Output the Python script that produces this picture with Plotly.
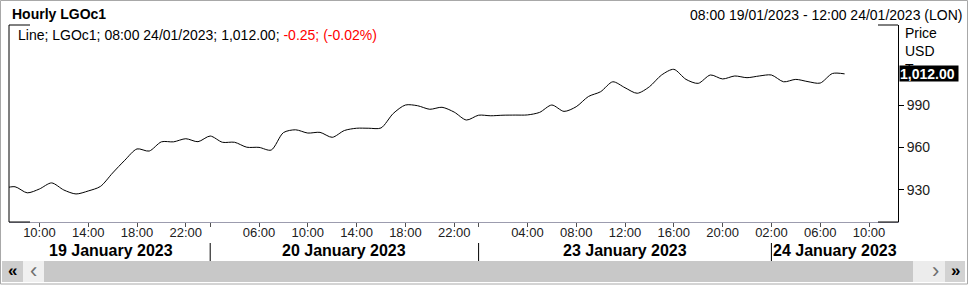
import plotly.graph_objects as go

# ---------------- data ----------------
# hourly bar index (trading hours only, weekend removed); step 0 = 08:00 19/01/2023
steps = list(range(-1, 69))
prices = [931.0, 932.3, 928.0, 930.7, 935.0, 930.0, 927.2, 929.3, 932.5, 942.0,
          951.0, 959.0, 957.5, 964.0, 964.0, 966.2, 964.1, 968.1, 963.7, 963.7,
          960.2, 960.1, 958.2, 970.5, 972.5, 970.2, 970.7, 967.2, 972.0, 973.6,
          973.6, 973.8, 984.0, 990.0, 989.5, 987.0, 988.4, 985.0, 979.4, 982.8,
          982.4, 982.8, 982.9, 983.0, 984.8, 990.0, 985.5, 988.8, 996.0, 999.4,
          1006.4, 1002.2, 998.3, 1002.9, 1011.2, 1015.2, 1008.1, 1005.3, 1011.2, 1008.4,
          1010.5, 1009.3, 1010.5, 1011.2, 1006.4, 1008.1, 1006.5, 1005.5, 1012.25, 1012.0]

tick_steps = [2, 6, 10, 14, 16, 20, 24, 28, 32, 36, 38, 42, 46, 50, 54, 58, 62, 66, 70]
tick_labels = ["10:00", "14:00", "18:00", "22:00", "", "06:00", "10:00", "14:00", "18:00",
               "22:00", "", "04:00", "08:00", "12:00", "16:00", "20:00", "02:00", "06:00", "10:00"]

day_labels = ["19 January 2023", "20 January 2023", "23 January 2023", "24 January 2023"]
day_centers = [7.9, 27.0, 50.0, 67.2]
day_breaks = [16, 38, 62]

y_tickvals = [930, 960, 990]
y_ticktext = ["930", "960", "990"]

last_value = "1,012.00"
title_text = "Hourly LGOc1"
range_text = "08:00 19/01/2023 - 12:00 24/01/2023 (LON)"
info_black = "Line; LGOc1; 08:00 24/01/2023; 1,012.00; "
info_red = "-0.25; (-0.02%)"
unit_lines = ["Price", "USD", "T"]

# ---------------- layout helpers (pixel -> paper) ----------------
W, H = 969, 285
L, R, T, B = 9, 898, 25, 222
PW, PH = R - L, B - T


def px(p):
    return (p - L) / PW


def py(p):
    return (B - p) / PH


FONT = "Liberation Sans, Arial, sans-serif"

fig = go.Figure()
fig.add_trace(go.Scatter(
    x=steps, y=prices, mode="lines",
    line=dict(color="black", width=1, shape="spline", smoothing=0.8),
    hoverinfo="skip", showlegend=False,
))

shapes = []
ann = []

# outer window border
shapes.append(dict(type="rect", xref="paper", yref="paper",
                   x0=px(0.5), x1=px(967.5), y0=py(284), y1=py(0.5),
                   line=dict(color="#a8a8a8", width=1), layer="below"))
# left frame line
shapes.append(dict(type="line", xref="paper", yref="paper", x0=0, x1=0, y0=0, y1=1,
                   line=dict(color="black", width=1), layer="above"))
# corner brackets
for x0, x1, yy in [(L, L + 21, 1), (R - 20, R, 1), (L, L + 21, 0), (R - 20, R, 0)]:
    shapes.append(dict(type="line", xref="paper", yref="paper",
                       x0=px(x0), x1=px(x1), y0=yy, y1=yy,
                       line=dict(color="black", width=1), layer="above"))
# day separators
for b in day_breaks:
    shapes.append(dict(type="line", xref="x", yref="paper", x0=b, x1=b,
                       y0=py(243), y1=py(261), line=dict(color="black", width=1)))

# scrollbar
def rect(x0, x1, y0, y1, color):
    shapes.append(dict(type="rect", xref="paper", yref="paper",
                       x0=px(x0), x1=px(x1), y0=py(y1), y1=py(y0),
                       fillcolor=color, line=dict(width=0)))

rect(2, 23, 261, 282, "#cdcdcd")
rect(23, 44, 261, 282, "#f0f0f0")
rect(44, 913, 261, 282, "#c8c8c8")
rect(913, 945, 261, 282, "#ececec")
rect(945, 965, 261, 282, "#d2d2d2")

def text(x, y, s, size=14, color="black", anchor="left", bold=False, **kw):
    ann.append(dict(xref="paper", yref="paper", x=px(x), y=py(y), text=(f"<b>{s}</b>" if bold else s),
                    showarrow=False, xanchor=anchor, yanchor="middle",
                    font=dict(family=FONT, size=size, color=color), **kw))

text(12.5, 270, "«", size=17, anchor="center", bold=True)
text(33.5, 270, "‹", size=22, color="#707070", anchor="center")
text(935, 270, "›", size=22, color="#707070", anchor="center")
text(955, 270, "»", size=17, anchor="center", bold=True)

# header
text(10, 14, title_text, size=14, bold=True)
text(964, 15, range_text, size=14, anchor="right")
text(16, 35, f"{info_black}<span style='color:#ff0000'>{info_red}</span>", size=14)

# unit labels on right
for i, s in enumerate(unit_lines):
    text(903, 33 + 18 * i, s, size=14)
# last value box
ann.append(dict(xref="paper", yref="paper", x=px(899), y=py(73), text=f"<b>{last_value}</b>",
                showarrow=False, xanchor="left", yanchor="middle",
                bgcolor="black", borderpad=0, width=58, height=15, align="left",
                font=dict(family=FONT, size=14, color="white")))

# day labels
for c, s in zip(day_centers, day_labels):
    ann.append(dict(xref="x", yref="paper", x=c, y=py(250), text=f"<b>{s}</b>",
                    showarrow=False, xanchor="center", yanchor="middle",
                    font=dict(family=FONT, size=16, color="black")))

fig.update_layout(
    width=W, height=H,
    margin=dict(l=L, r=W - R, t=T, b=H - B, pad=0),
    paper_bgcolor="white", plot_bgcolor="white",
    showlegend=False,
    shapes=shapes, annotations=ann,
    xaxis=dict(range=[(L - 15) / 12.2, (R - 15) / 12.2], tickmode="array",
               tickvals=tick_steps, ticktext=tick_labels,
               showgrid=False, zeroline=False, showline=True, linecolor="#9c9cae", linewidth=1,
               ticks="outside", ticklen=4, tickcolor="#505050", tickwidth=1,
               ticklabelstandoff=-6,
               tickfont=dict(family=FONT, size=13, color="#202020"), fixedrange=True),
    yaxis=dict(range=[907.4, 1046.5], side="right", tickvals=y_tickvals, ticktext=y_ticktext,
               showgrid=False, zeroline=False, showline=True, linecolor="black", linewidth=1,
               ticks="outside", ticklen=5, tickcolor="black",
               tickfont=dict(family=FONT, size=14, color="#202020"), fixedrange=True),
)

fig.write_html("out.html", config={"displayModeBar": False})
